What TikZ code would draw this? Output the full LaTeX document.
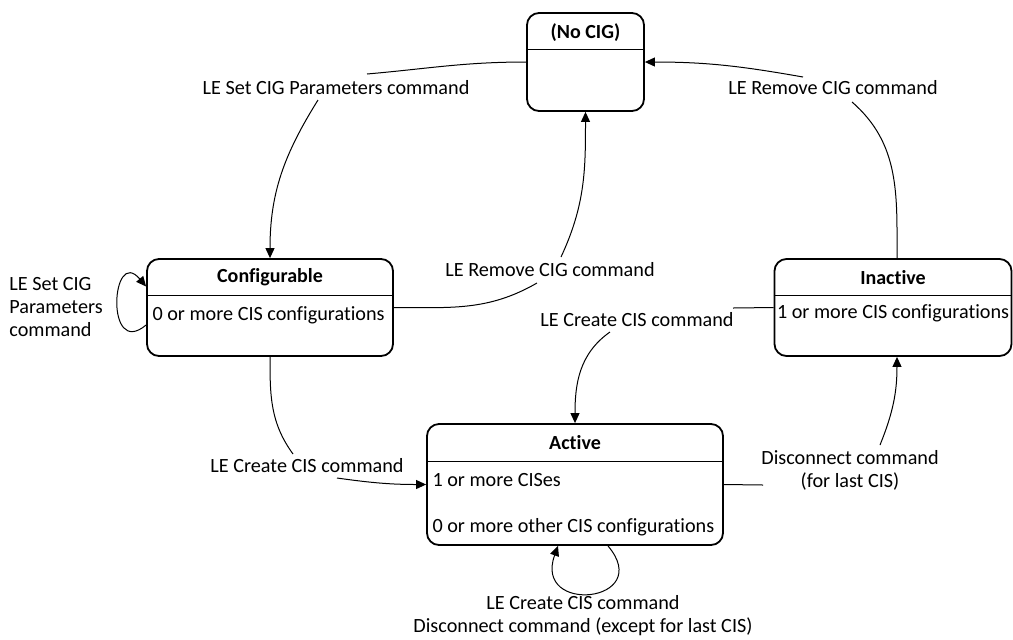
\documentclass[tikz,border=0pt]{standalone}
\usepackage{fontspec}
\setmainfont[Ligatures=NoCommon]{Carlito}
\usetikzlibrary{arrows.meta,calc}
\tikzset{
  state/.style={draw, rounded corners=6pt, line width=0.9pt, inner sep=0pt},
  head/.style={font=\bfseries, inner sep=0pt},
  body/.style={anchor=west, inner sep=0pt},
  cmd/.style={inner sep=0pt, align=center},
  trans/.style={-{Triangle[length=5pt,width=4.5pt]}, line width=0.5pt},
}

\begin{document}
\begin{tikzpicture}[x=0.5pt, y=-0.5pt, font=\fontsize{10.1}{11.5}\selectfont]
  \useasboundingbox (0,0) rectangle (1013,639);
  % states
  \node[state, minimum width=58.5pt, minimum height=49pt] (nocig) at (585.5,62) {};
  \node[state, minimum width=123pt, minimum height=48.5pt] (cfg) at (270,307.5) {};
  \node[state, minimum width=118.5pt, minimum height=48.5pt] (inact) at (893,307.5) {};
  \node[state, minimum width=148pt, minimum height=60.5pt] (active) at (575,484.5) {};
  \foreach \s/\h in {nocig/37, cfg/37, inact/37, active/38}
    \draw[line width=0.6pt] ($(\s.north west)+(0,\h)$) -- ($(\s.north east)+(0,\h)$);

  \node[head] (nocigT) at ($(nocig.north)+(0,20)$) {(No CIG)};
  \node[head] (cfgT) at ($(cfg.north)+(0,19)$) {Configurable};
  \node[head] (inactT) at ($(inact.north)+(0,19)$) {Inactive};
  \node[head] (activeT) at ($(active.north)+(0,19)$) {Active};
  \node[body] (cfgB) at ($(cfg.north west)+(6,57)$) {0 or more CIS configurations};
  \node[body] (inactB) at ($(inact.north west)+(3,55)$) {1 or more CIS configurations};
  \node[body] (activeB) at ($(active.north west)+(6,57)$) {1 or more CISes};
  \node[body] (activeC) at ($(active.north west)+(6,104)$) {0 or more other CIS configurations};

  % transition labels
  \node[cmd] (l1) at (336,88) {LE Set CIG Parameters command};
  \node[cmd] (l2) at (550,270) {LE Remove CIG command};
  \node[cmd] (l3) at (833,88) {LE Remove CIG command};
  \node[cmd] (l4) at (637,320) {LE Create CIS command};
  \node[cmd] (l5) at (307,466) {LE Create CIS command};
  \node[cmd] (l6) at (850,470) {Disconnect command\\(for last CIS)};
  \node[cmd, align=left, anchor=west] (l7) at (9,307) {LE Set CIG\\Parameters\\command};
  \node[cmd] (l8) at (583,616) {LE Create CIS command\\Disconnect command (except for last CIS)};

  % transitions
  \draw[line width=0.5pt] (nocig.west) to[out=180,in=5] ($(l1)+(31,-14)$);
  \draw[trans] ($(l1)+(-18,12)$) to[out=238,in=90] (cfg.north);
  \draw[line width=0.5pt] (cfg.east) to[out=0,in=210] ($(l2)+(-13,13)$);
  \draw[trans] ($(l2)+(11,-13)$) to[out=65,in=-90] (nocig.south);
  \draw[line width=0.5pt] ($(inact.north)+(4,0)$) to[out=90,in=-41] ($(l3)+(19,14)$);
  \draw[trans] ($(l3)+(-30,-11)$) to[out=170,in=0] (nocig.east);
  \draw[line width=0.5pt] (inact.west) -- ($(l4)+(96,-12)$);
  \draw[trans] ($(l4)+(-27,12)$) to[out=215,in=90] (active.north);
  \draw[line width=0.5pt] (cfg.south) to[out=-90,in=126] ($(l5)+(-14,-12)$);
  \draw[trans] ($(l5)+(30,12)$) to[out=-8,in=180] (active.west);
  \draw[line width=0.5pt] (active.east) -- ($(l6)+(-87,15)$);
  \draw[trans] ($(l6)+(30,-25)$) to[out=68,in=-90] ($(inact.south)+(4,0)$);
  % self loops
  \draw[trans] ($(cfg.west)+(0,17.5)$) to[out=220,in=130,looseness=3.6] ($(cfg.west)+(0,-21)$);
  \draw[trans] ($(active.south)+(33,0)$) to[out=-50,in=250,looseness=3.8] ($(active.south)+(-17,0)$);
\end{tikzpicture}
\end{document}
